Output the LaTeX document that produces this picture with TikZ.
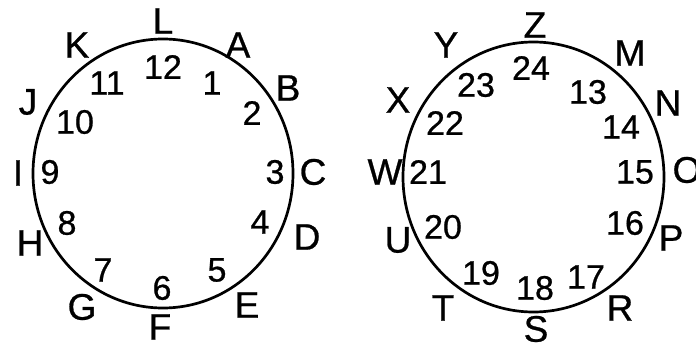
\documentclass[tikz,border=0pt]{standalone}
\usepackage{fontspec}
\setmainfont{Liberation Sans}[FakeBold=0.7]
\begin{document}
\begin{tikzpicture}[x=1pt,y=-1pt,
  lbl/.style={inner sep=0pt,font=\fontsize{37}{37}\selectfont},
  num/.style={inner sep=0pt,font=\fontsize{34}{34}\selectfont},
  ring/.style={draw=black,line width=2.7pt}]
\useasboundingbox (0,0) rectangle (696,347);
\fill[white] (0,0) rectangle (696,347);
% left dial
\draw[ring] (163,173.5) ellipse [x radius=130, y radius=134.5];
\node[lbl] (L) at (163,21) {L};
\node[lbl] (K) at (77,45) {K};
\node[lbl] (A) at (238,45) {A};
\node[lbl] (B) at (288,88) {B};
\node[lbl] (J) at (28,102) {J};
\node[lbl] (C) at (313,172) {C};
\node[lbl] (I) at (18,173) {I};
\node[lbl] (D) at (307,237) {D};
\node[lbl] (H) at (30,243) {H};
\node[lbl] (E) at (247,305) {E};
\node[lbl] (G) at (82,307) {G};
\node[lbl] (F) at (160,327) {F};
\node[num] (n12) at (163,67) {12};
\node[num] (n11) at (107,83) {11};
\node[num] (n1) at (212,83) {1};
\node[num] (n10) at (75,122) {10};
\node[num] (n2) at (252,113) {2};
\node[num] (n9) at (50,172) {9};
\node[num] (n3) at (275,172) {3};
\node[num] (n8) at (67,223) {8};
\node[num] (n4) at (260,222) {4};
\node[num] (n7) at (103,270) {7};
\node[num] (n5) at (217,270) {5};
\node[num] (n6) at (162,288) {6};
% right dial
\draw[ring] (533.5,177) ellipse [x radius=130.5, y radius=135];
\node[lbl] (Z) at (535,25) {Z};
\node[lbl] (Y) at (446,45) {Y};
\node[lbl] (M) at (630,53) {M};
\node[lbl] (X) at (398,100) {X};
\node[lbl] (N) at (668,103) {N};
\node[lbl] (W) at (385,172) {W};
\node[lbl] (O) at (687,170) {O};
\node[lbl] (U) at (398,240) {U};
\node[lbl] (P) at (671,238) {P};
\node[lbl] (T) at (443,308) {T};
\node[lbl] (R) at (620,308) {R};
\node[lbl] (S) at (536,329) {S};
\node[num] (n24) at (531,68) {24};
\node[num] (n23) at (476,85) {23};
\node[num] (n13) at (588,92) {13};
\node[num] (n22) at (445,123) {22};
\node[num] (n14) at (621,127) {14};
\node[num] (n21) at (428,172) {21};
\node[num] (n15) at (635,172) {15};
\node[num] (n20) at (443,227) {20};
\node[num] (n16) at (625,223) {16};
\node[num] (n19) at (481,273) {19};
\node[num] (n17) at (586,277) {17};
\node[num] (n18) at (535,288) {18};
\end{tikzpicture}
\end{document}
